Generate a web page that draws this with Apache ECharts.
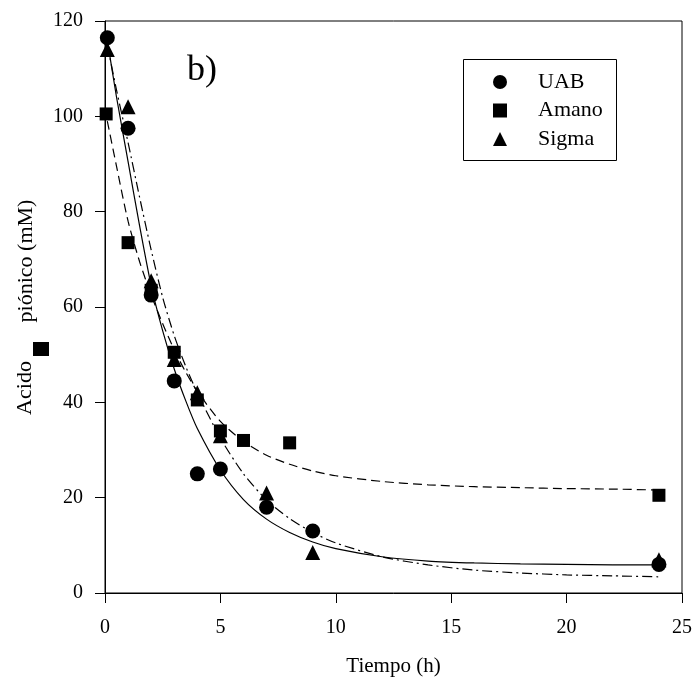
<!DOCTYPE html>
<html>
<head>
<meta charset="utf-8">
<script src="https://cdn.jsdelivr.net/npm/echarts@6/dist/echarts.min.js"></script>
<style>
html,body{margin:0;padding:0;background:#fff;}
#chart{width:695px;height:684px;}
</style>
</head>
<body>
<div id="chart"></div>
<script>
// Measured points
const uabT = [0.1, 1, 2, 3, 4, 5, 7, 9, 24];
const uabY = [116.5, 97.5, 62.5, 44.5, 25, 26, 18, 13, 6];
const amanoT = [0.05, 1, 2, 3, 4, 5, 6, 8, 24];
const amanoY = [100.5, 73.5, 63.5, 50.5, 40.5, 34, 32, 31.5, 20.5];
const sigmaT = [0.1, 1, 2, 3, 4, 5, 7, 9, 24];
const sigmaY = [114, 102, 65.5, 49, 42, 33, 21, 8.5, 7];

// Fitted curves
const fitT = [0.1, 0.5, 1, 1.5, 2, 2.5, 3, 3.5, 4, 5, 6, 7, 8, 9, 10, 12, 14, 16, 18, 20, 22, 24];
const uabFit = [116, 104, 90.5, 77, 64.5, 55, 47, 40.3, 34.5, 25.8, 19.6, 15.5, 12.7, 10.7, 9.3, 7.6, 6.7, 6.3, 6.1, 6.0, 5.9, 5.9];
const amanoFit = [99, 89.5, 78, 69.5, 62.5, 56.5, 51, 46.3, 42.3, 36, 31.8, 28.9, 27, 25.6, 24.6, 23.4, 22.7, 22.3, 22.1, 21.9, 21.8, 21.6];
const sigmaFit = [115, 105.5, 94.5, 83, 72, 62, 54, 47.5, 42, 32.5, 25, 19.5, 15.6, 12.7, 10.5, 7.6, 5.9, 4.8, 4.2, 3.8, 3.6, 3.4];

const seriesNames = ['UAB', 'Amano', 'Sigma'];
const xTicks = {min: 0, max: 25, interval: 5};
const yTicks = {min: 0, max: 120, interval: 20};

const zip = (a, b) => a.map((v, i) => [v, b[i]]);
const serif = '"Liberation Serif", "DejaVu Serif", serif';

const chart = echarts.init(document.getElementById('chart'), null, {renderer: 'canvas'});
chart.setOption({
  backgroundColor: '#fff',
  animation: false,
  grid: {left: 105, right: 12, top: 21, bottom: 91, show: true, borderColor: '#000', borderWidth: 1},
  xAxis: {
    type: 'value', min: xTicks.min, max: xTicks.max, interval: xTicks.interval,
    axisLine: {lineStyle: {color: '#000', width: 1}},
    axisTick: {show: true, length: 10, lineStyle: {color: '#000'}},
    axisLabel: {color: '#000', fontFamily: serif, fontSize: 20, margin: 25},
    splitLine: {show: false},
    name: 'Tiempo (h)', nameLocation: 'middle', nameGap: 63,
    nameTextStyle: {color: '#000', fontFamily: serif, fontSize: 21}
  },
  yAxis: {
    type: 'value', min: yTicks.min, max: yTicks.max, interval: yTicks.interval,
    axisLine: {lineStyle: {color: '#000', width: 1}},
    axisTick: {show: true, length: 10, lineStyle: {color: '#000'}},
    axisLabel: {color: '#000', fontFamily: serif, fontSize: 20, margin: 22},
    splitLine: {show: false}
  },
  legend: {
    data: seriesNames,
    orient: 'vertical',
    left: 493, top: 71,
    padding: 0,
    itemWidth: 14, itemHeight: 14, itemGap: 6.5,
    textStyle: {color: '#000', fontFamily: serif, fontSize: 22, lineHeight: 21, padding: [0, 0, 0, 26]}
  },
  graphic: [
    {type: 'rect', shape: {x: 463.5, y: 59.5, width: 153, height: 101}, style: {fill: 'none', stroke: '#000', lineWidth: 1}, z: 0},
    {type: 'text', x: 187, y: 71, style: {text: 'b)', font: '36px ' + serif, fill: '#000', textAlign: 'left', textVerticalAlign: 'middle'}},
    {type: 'text', x: 25, y: 388, rotation: Math.PI / 2, style: {text: 'Acido', font: '22px ' + serif, fill: '#000', textAlign: 'center', textVerticalAlign: 'middle'}},
    {type: 'text', x: 26, y: 261, rotation: Math.PI / 2, style: {text: 'piónico (mM)', font: '22px ' + serif, fill: '#000', textAlign: 'center', textVerticalAlign: 'middle'}},
    {type: 'rect', shape: {x: 33, y: 342, width: 16, height: 14}, style: {fill: '#000'}}
  ],
  series: [
    {name: 'UAB fit', type: 'line', data: zip(fitT, uabFit), smooth: 0.25, symbol: 'none', lineStyle: {color: '#000', width: 1.2, type: 'solid'}, z: 2},
    {name: 'Amano fit', type: 'line', data: zip(fitT, amanoFit), smooth: 0.25, symbol: 'none', lineStyle: {color: '#000', width: 1.2, type: [9, 5]}, z: 2},
    {name: 'Sigma fit', type: 'line', data: zip(fitT, sigmaFit), smooth: 0.25, symbol: 'none', lineStyle: {color: '#000', width: 1.2, type: [10, 4, 2, 4]}, z: 2},
    {name: 'UAB', type: 'scatter', data: zip(uabT, uabY), symbol: 'circle', symbolSize: 15, itemStyle: {color: '#000', opacity: 1}, z: 3},
    {name: 'Amano', type: 'scatter', data: zip(amanoT, amanoY), symbol: 'rect', symbolSize: 13, itemStyle: {color: '#000', opacity: 1}, z: 3},
    {name: 'Sigma', type: 'scatter', data: zip(sigmaT, sigmaY), symbol: 'triangle', symbolSize: 15, itemStyle: {color: '#000', opacity: 1}, z: 3}
  ]
});
</script>
</body>
</html>
